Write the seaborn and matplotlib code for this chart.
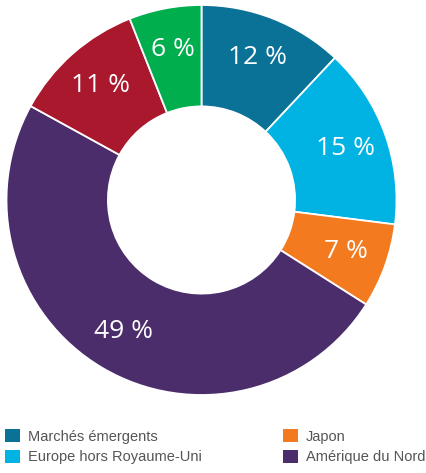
import matplotlib
matplotlib.use("Agg")
import matplotlib.pyplot as plt
import seaborn as sns
from matplotlib.patches import Patch

sns.set_theme(style="white")
plt.rcParams['font.family'] = ['Lato', 'DejaVu Sans']

categories = ["Marchés émergents", "Europe hors Royaume-Uni", "Japon",
              "Amérique du Nord", "Royaume-Uni", "Pacifique hors Japon"]
values = [12, 15, 7, 49, 11, 6]
labels = ["12 %", "15 %", "7 %", "49 %", "11 %", "6 %"]
colors = ["#0A7197", "#00B3E3", "#F47A20", "#4B2D6B", "#AA182E", "#00AE4D"]
legend_idx = [0, 1, 2, 3]

fig = plt.figure(figsize=(4.27, 4.73), dpi=100)
W, H = 427, 473
cx, cy, R = 201.5, 200, 195
ax = fig.add_axes([(cx - R) / W, (H - cy - R) / H, 2 * R / W, 2 * R / H])
wedges, texts = ax.pie(values, colors=colors, startangle=90, counterclock=False,
                       radius=1, wedgeprops=dict(width=0.52, edgecolor="white", linewidth=1.3),
                       labels=labels, labeldistance=0.785,
                       textprops=dict(color="white", fontsize=19, fontweight="normal",
                                      family=['Open Sans', 'DejaVu Sans'],
                                      ha="center", va="center"))
ax.set_xlim(-1, 1)
ax.set_ylim(-1, 1)
ax.set_aspect("equal")
ax.axis("off")

handles = [Patch(facecolor=colors[i], edgecolor="none") for i in legend_idx]
leg = fig.legend(handles, [categories[i] for i in legend_idx], ncol=2,
                 loc="upper left", bbox_to_anchor=(0.012, 0.093),
                 frameon=False,
                 prop=dict(family=['Liberation Sans', 'DejaVu Sans'], size=10.5),
                 handlelength=1.0, handleheight=1.0,
                 handletextpad=0.55, columnspacing=5.6, labelspacing=0.42,
                 borderpad=0, borderaxespad=0)
for t in leg.get_texts():
    t.set_color("#555555")

fig.savefig("out.png", dpi=100, facecolor="white")
